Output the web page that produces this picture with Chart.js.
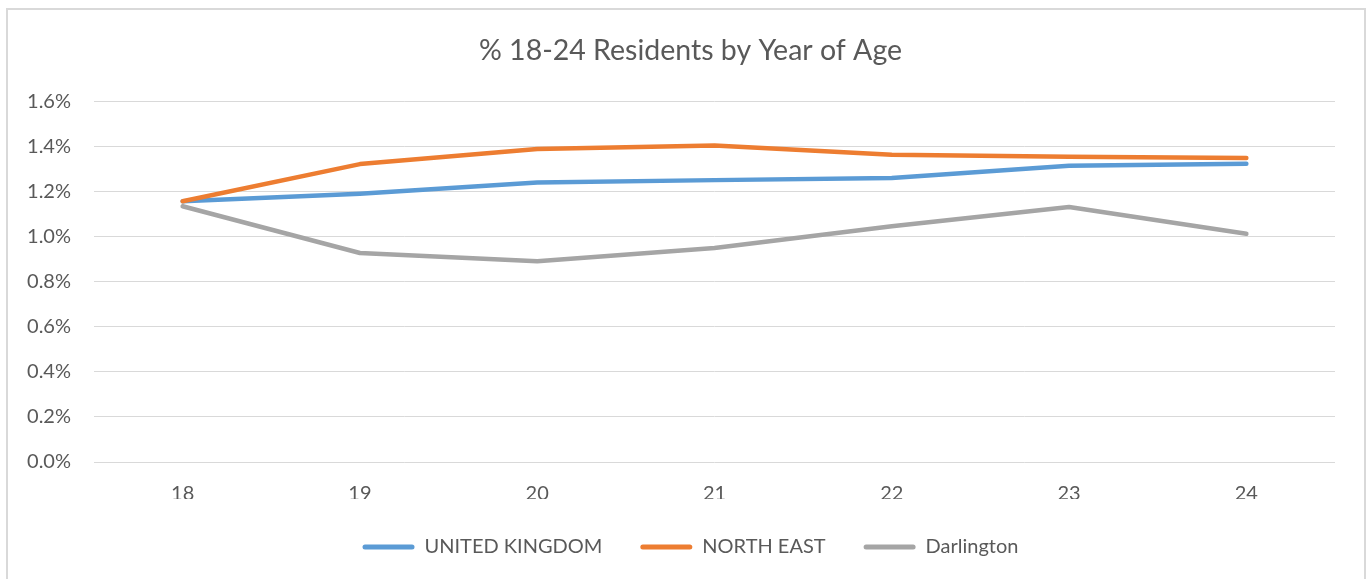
<!DOCTYPE html>
<html>
<head>
<meta charset="utf-8">
<script src="https://cdn.jsdelivr.net/npm/chart.js@4"></script>
<style>
  html, body { margin: 0; padding: 0; background: #fff; overflow: hidden; }
  #wrap {
    position: absolute; left: 6px; top: 8px;
    width: 1360px; height: 571px; box-sizing: border-box;
    border: 2px solid #d9d9d9; border-bottom: none;
  }
  #ageChart { display: block; }
</style>
</head>
<body>
<div id="wrap"><canvas id="ageChart" width="1356" height="569"></canvas></div>
<script>
  const ages = ['18', '19', '20', '21', '22', '23', '24'];
  const ukShare = [1.156, 1.190, 1.240, 1.250, 1.259, 1.314, 1.323];
  const northEastShare = [1.156, 1.321, 1.388, 1.404, 1.363, 1.354, 1.348];
  const darlingtonShare = [1.134, 0.927, 0.890, 0.949, 1.045, 1.131, 1.012];

  const textColor = '#595959';
  const fontFamily = 'Lato, "Open Sans", sans-serif';

  // later series sit on top, so give them a lower draw order
  const line = (label, data, colour, order) => ({
    label, data, order,
    borderColor: colour,
    backgroundColor: colour,
    borderWidth: 4.5,
    borderCapStyle: 'round',
    borderJoinStyle: 'round',
    pointRadius: 0,
    pointHoverRadius: 0,
    tension: 0,
    fill: false
  });

  const ctx = document.getElementById('ageChart').getContext('2d');

  const ageChart = new Chart(ctx, {
    type: 'line',
    data: {
      labels: ages,
      datasets: [
        line('UNITED KINGDOM', ukShare, '#5b9bd5', 3),
        line('NORTH EAST', northEastShare, '#ed7d31', 2),
        line('Darlington', darlingtonShare, '#a5a5a5', 1)
      ]
    },
    options: {
      responsive: false,
      animation: false,
      layout: { padding: { left: 9, right: 0, top: 0, bottom: 12 } },
      plugins: {
        title: {
          display: true,
          text: '% 18-24 Residents by Year of Age',
          color: textColor,
          font: { family: fontFamily, size: 28.5, weight: 'normal' },
          padding: { top: 24, bottom: 33 }
        },
        legend: {
          position: 'bottom',
          labels: {
            color: textColor,
            font: { family: fontFamily, size: 20 },
            boxWidth: 52,
            boxHeight: 5,
            useBorderRadius: true,
            borderRadius: 2.5,
            padding: 38,
            sort: (a, b) => a.datasetIndex - b.datasetIndex,
            generateLabels: (chart) =>
              Chart.defaults.plugins.legend.labels.generateLabels(chart)
                .map(item => Object.assign(item, { lineWidth: 0 }))
          }
        },
        tooltip: { enabled: false }
      },
      scales: {
        x: {
          offset: true,
          grid: { display: false, drawTicks: false },
          border: { display: false },
          ticks: {
            color: textColor,
            padding: 20,
            font: { family: fontFamily, size: 20 }
          },
          afterFit: (scale) => { scale.height = 37; }
        },
        y: {
          min: 0,
          max: 1.6,
          grid: { color: '#d9d9d9', lineWidth: 1, drawTicks: false },
          border: { display: false },
          ticks: {
            stepSize: 0.2,
            color: textColor,
            padding: 23,
            font: { family: fontFamily, size: 20 },
            callback: (value) => `${value.toFixed(1)}%`
          },
          afterFit: (scale) => { scale.width = 77; }
        },
        // empty right-hand gutter between the plot and the frame
        gutter: {
          type: 'linear',
          axis: 'y',
          position: 'right',
          min: 0,
          max: 1.6,
          grid: { display: false, drawTicks: false },
          border: { display: false },
          ticks: { display: false },
          afterFit: (scale) => { scale.width = 29; }
        }
      }
    }
  });
</script>
</body>
</html>
